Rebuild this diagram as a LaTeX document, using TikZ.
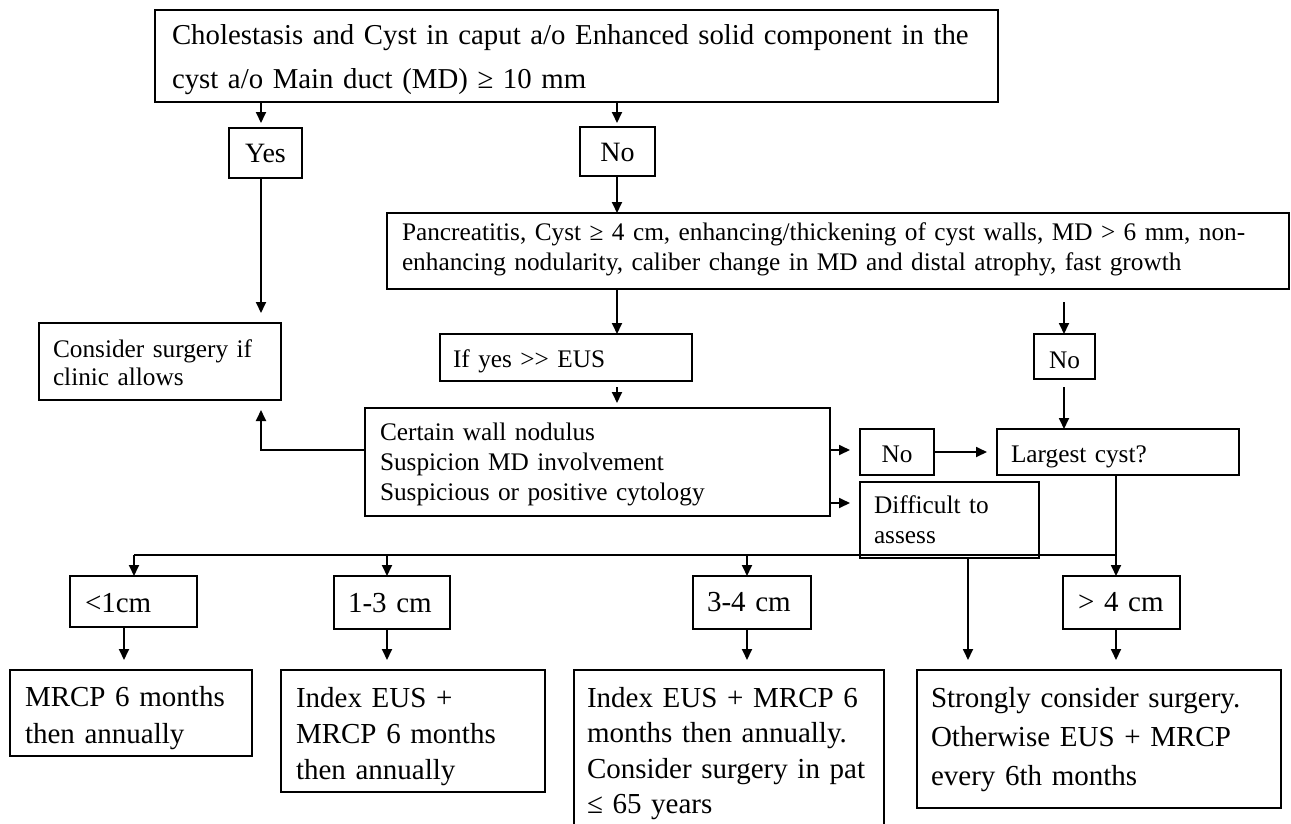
\documentclass[tikz,border=0pt]{standalone}
\usepackage{fontspec}
\setmainfont{Liberation Serif}
\usetikzlibrary{arrows.meta}
\newcommand{\mytop}[1]{\rule{0pt}{#1pt}}
\newcommand{\mybot}[1]{\rule[-#1pt]{0pt}{#1pt}}
\tikzset{
  bx/.style={draw, rectangle, outer sep=0pt, inner ysep=0pt, anchor=north west, line width=2pt},
  thk/.style={line width=2.6pt},
  lft/.style={align=left},
  mid/.style={font=\fontsize{25.3}{30}\selectfont},
  yn/.style={font=\fontsize{28}{30}\selectfont},
  big/.style={font=\fontsize{29}{37}\selectfont},
  conn/.style={line width=1.8pt},
  arr/.style={conn, -{Triangle[length=11pt,width=10pt]}},
}
\begin{document}
\begin{tikzpicture}[x=1pt,y=-1pt]
\path[fill=white,use as bounding box] (0,0) rectangle (1291,823);

% boxes
\node[bx, thk, lft, font=\fontsize{28.8}{44}\selectfont, text width=809pt, inner xsep=17pt, minimum height=92pt] (top) at (155,10)
  {\mytop{34}\mbox{Cholestasis and Cyst in caput a/o Enhanced solid component in the}\\\mbox{cyst a/o Main duct (MD) ≥ 10 mm}\mybot{14}};
\node[bx, thk, yn, inner xsep=0pt, minimum width=73pt, minimum height=50pt] (yes) at (229,128) {\mytop{34}Yes\mybot{16}};
\node[bx, thk, yn, inner xsep=0pt, minimum width=75pt, minimum height=49pt] (no1) at (580,127) {\mytop{34}No\mybot{15}};
\node[bx, lft, font=\fontsize{25.3}{30}\selectfont, text width=872pt, inner xsep=15pt, minimum height=76pt] (panc) at (387,213)
  {\mytop{27}\mbox{Pancreatitis, Cyst ≥ 4 cm, enhancing/thickening of cyst walls, MD > 6 mm, non-}\\\mbox{enhancing nodularity, caliber change in MD and distal atrophy, fast growth}\mybot{19}};
\node[bx, lft, font=\fontsize{25.3}{28}\selectfont, text width=214pt, inner xsep=14pt, minimum height=77pt] (consider) at (39,323)
  {\mytop{34}\mbox{Consider surgery if}\\\mbox{clinic allows}\mybot{15}};
\node[bx, lft, mid, text width=226pt, inner xsep=13pt, minimum height=47pt] (ifyes) at (440,334)
  {\mytop{33}\mbox{If yes >\kern0pt> EUS}\mybot{14}};
\node[bx, mid, inner xsep=0pt, minimum width=61pt, minimum height=45pt] (no2) at (1034,334) {\mytop{34}No\mybot{11}};
\node[bx, lft, mid, text width=435pt, inner xsep=15pt, minimum height=108pt] (certain) at (365,408)
  {\mytop{32}\mbox{Certain wall nodulus}\\\mbox{Suspicion MD involvement}\\\mbox{Suspicious or positive cytology}\mybot{16}};
\node[bx, mid, inner xsep=0pt, minimum width=74pt, minimum height=46pt] (no3) at (860,429) {\mytop{33}No\mybot{13}};
\node[bx, lft, mid, text width=214pt, inner xsep=14pt, minimum height=46pt] (largest) at (997,429)
  {\mytop{33}\mbox{Largest cyst?}\mybot{13}};
\node[bx, lft, font=\fontsize{25.3}{30}\selectfont, text width=151pt, inner xsep=14pt, minimum height=76pt] (difficult) at (860,482)
  {\mytop{31}\mbox{Difficult to}\\\mbox{assess}\mybot{15}};
\node[bx, thk, lft, big, text width=97pt, inner xsep=15pt, minimum height=51pt] (lt1) at (70,576) {\mytop{36}\mbox{<1cm}\mybot{15}};
\node[bx, thk, lft, big, text width=88pt, inner xsep=14pt, minimum height=53pt] (r13) at (334,576) {\mytop{36}\mbox{1-3 cm}\mybot{17}};
\node[bx, thk, lft, big, text width=90pt, inner xsep=14pt, minimum height=53pt] (r34) at (693,576) {\mytop{35}\mbox{3-4 cm}\mybot{18}};
\node[bx, thk, lft, big, text width=87pt, inner xsep=15pt, minimum height=53pt] (gt4) at (1063,576) {\mytop{35}\mbox{> 4 cm}\mybot{18}};
\node[bx, thk, lft, font=\fontsize{29}{37}\selectfont, text width=212pt, inner xsep=15pt, minimum height=86pt] (mrcp) at (10,670)
  {\mytop{36}\mbox{MRCP 6 months}\\\mbox{then annually}\mybot{13}};
\node[bx, thk, lft, font=\fontsize{29}{36}\selectfont, text width=234pt, inner xsep=15pt, minimum height=122pt] (index) at (281,670)
  {\mytop{37}\mbox{Index EUS +}\\\mbox{MRCP 6 months}\\\mbox{then annually}\mybot{13}};
\node[bx, thk, lft, font=\fontsize{29}{35.5}\selectfont, text width=284pt, inner xsep=13pt, minimum height=162pt] (index2) at (574,670)
  {\mytop{37}\mbox{Index EUS + MRCP 6}\\\mbox{months then annually.}\\\mbox{Consider surgery in pat}\\\mbox{≤ 65 years}\mybot{18.5}};
\node[bx, thk, lft, font=\fontsize{29}{39}\selectfont, text width=336pt, inner xsep=14pt, minimum height=138pt] (strongly) at (917,670)
  {\mytop{37}\mbox{Strongly consider surgery.}\\\mbox{Otherwise EUS + MRCP}\\\mbox{every 6th months}\mybot{23}};

% helper coordinates
\coordinate (cY) at (261,0);
\coordinate (cN) at (617,0);
\coordinate (cR) at (1064,0);
\coordinate (cL) at (1116,0);
\coordinate (cD) at (968,0);
\coordinate (c1) at (134,0);
\coordinate (c1b) at (124,0);
\coordinate (c2) at (387,0);
\coordinate (c3) at (747,0);
\coordinate (rA) at (0,450);
\coordinate (rB) at (0,503);
\coordinate (rBus) at (0,555);
\coordinate (nofree) at (1064,302);

% connectors
\draw[arr, shorten >=5pt] (top.south -| cY) -- (yes.north -| cY);
\draw[arr, shorten >=4pt] (top.south -| cN) -- (no1.north -| cN);
\draw[arr, shorten >=10pt] (yes.south -| cY) -- (consider.north -| cY);
\draw[arr] (no1.south -| cN) -- (panc.north -| cN);
\draw[arr] (panc.south -| cN) -- (ifyes.north -| cN);
\draw[arr, shorten <=6pt, shorten >=5pt] (ifyes.south -| cN) -- (certain.north -| cN);
\draw[arr] (nofree) -- (no2.north -| cR);
\draw[arr, shorten <=8pt] (no2.south -| cR) -- (largest.north -| cR);
\draw[arr, shorten >=10pt] (certain.west |- rA) -| (consider.south -| cY);
\draw[arr, shorten >=10pt] (certain.east |- rA) -- (no3.west |- rA);
\draw[arr, shorten >=10pt] (no3.east) -- (largest.west |- no3.east);
\draw[arr, shorten >=10pt] (certain.east |- rB) -- (difficult.west |- rB);
\draw[arr] (largest.south -| cL) -- (gt4.north -| cL);
\draw[conn] (c1 |- rBus) -- (cL |- rBus);
\draw[arr] (c1 |- rBus) -- (lt1.north -| c1);
\draw[arr] (c2 |- rBus) -- (r13.north -| c2);
\draw[arr] (c3 |- rBus) -- (r34.north -| c3);
\draw[arr, shorten >=10pt] (difficult.south -| cD) -- (strongly.north -| cD);
\draw[arr, shorten >=10pt] (lt1.south -| c1b) -- (mrcp.north -| c1b);
\draw[arr, shorten >=10pt] (r13.south -| c2) -- (index.north -| c2);
\draw[arr, shorten >=10pt] (r34.south -| c3) -- (index2.north -| c3);
\draw[arr, shorten >=10pt] (gt4.south -| cL) -- (strongly.north -| cL);
\end{tikzpicture}
\end{document}
